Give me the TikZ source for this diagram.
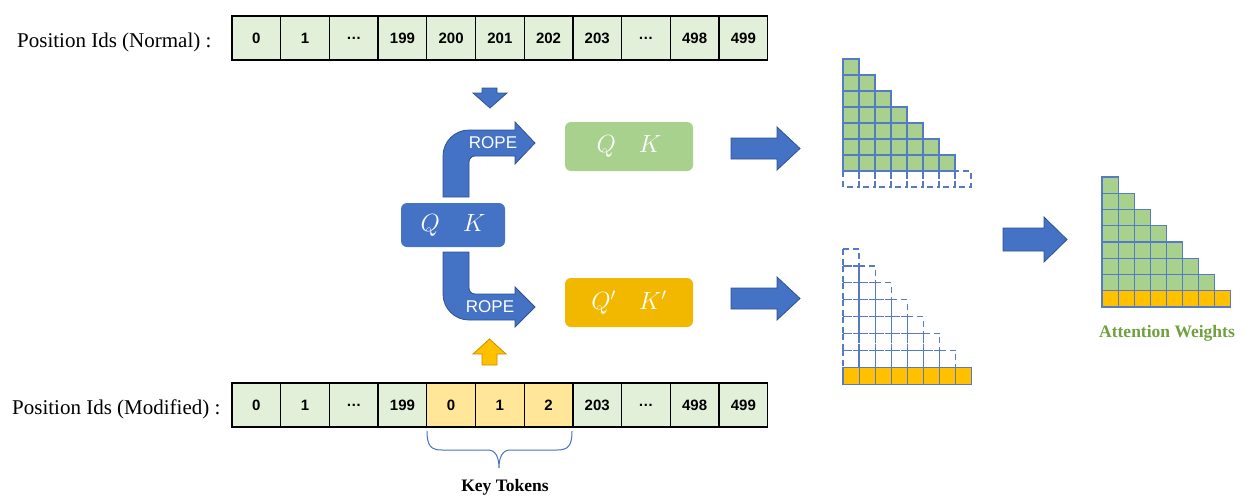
\documentclass[tikz,border=0pt]{standalone}
\usepackage{fontspec}
\setmainfont{Liberation Serif}
\setsansfont{Liberation Sans}
\usetikzlibrary{calc,positioning}

\definecolor{idgreen}{RGB}{226,240,217}
\definecolor{idyellow}{RGB}{255,230,153}
\definecolor{qkblue}{RGB}{68,114,196}
\definecolor{qkedge}{RGB}{47,82,143}
\definecolor{qkgreen}{RGB}{169,209,142}
\definecolor{qkgold}{RGB}{242,184,0}
\definecolor{gridyellow}{RGB}{255,192,0}
\definecolor{gridline}{RGB}{84,122,200}
\definecolor{attgreen}{RGB}{112,160,64}
\definecolor{upedge}{RGB}{205,140,0}

\tikzset{
  idcell/.style={draw=black, line width=1.3pt, minimum width=48.7pt, minimum height=44pt, inner sep=0pt, font=\sffamily\bfseries\fontsize{15}{18}\selectfont},
  qkbox/.style={rounded corners=6pt, minimum height=49pt, minimum width=128pt, inner sep=0pt, text=white, font=\fontsize{23}{27}\selectfont},
  blockarrow/.style={fill=qkblue, draw=qkedge, line width=0.8pt},
  ropetext/.style={text=white, font=\sffamily\fontsize{17}{20}\selectfont},
  gridcell/.style={draw=gridline, line width=1.2pt},
  dashcell/.style={draw=gridline, line width=1.3pt, dash pattern=on 6pt off 4pt},
  caption/.style={font=\bfseries\fontsize{17.5}{21}\selectfont}
}

\begin{document}
\begin{tikzpicture}[x=1pt,y=-1pt]
\useasboundingbox (0,0) rectangle (1253,501);

%position ids
\node[anchor=base east, font=\fontsize{21}{25}\selectfont] (lnormal) at (215,47) {Position Ids (Normal) :};
\node[anchor=base east, font=\fontsize{21}{25}\selectfont] (lmod) at (224,414) {Position Ids (Modified) :};
\foreach \lab [count=\i from 0] in {0,1,\ldots,199,200,201,202,203,\ldots,498,499}
  \node[idcell, fill=idgreen] (n\i) at ({256.35+48.7*\i},38) {\lab};
\foreach \lab/\col [count=\i from 0] in {0/idgreen,1/idgreen,\ldots/idgreen,199/idgreen,0/idyellow,1/idyellow,2/idyellow,203/idgreen,\ldots/idgreen,498/idgreen,499/idgreen}
  \node[idcell, fill=\col] (m\i) at ({256.35+48.7*\i},405) {\lab};

%key tokens brace
\draw[qkblue, line width=1pt] (427,431) .. controls (427,446) and (431,450) .. (442,450) -- (488,450) .. controls (496,450) and (499,458) .. (499,468) .. controls (499,458) and (502,450) .. (510,450) -- (557,450) .. controls (568,450) and (572,446) .. (572,431);
\node[caption] (keytok) at (505,487) {Key Tokens};

%small arrows
\filldraw[blockarrow] (482,88) -- (497,88) -- (497,93) -- (507,93) -- (490,108) -- (473,93) -- (482,93) -- cycle;
\filldraw[fill=gridyellow, draw=upedge, line width=0.8pt] (482,365) -- (497,365) -- (497,354) -- (506,354) -- (489.5,339) -- (473,354) -- (482,354) -- cycle;

%q k boxes
\node[qkbox, fill=qkblue, minimum width=104pt, minimum height=44pt] (qk) at (453,225) {$Q\quad K$};
\node[qkbox, fill=qkgreen] (qkn) at (629,146.5) {$Q\quad K$};
\node[qkbox, fill=qkgold] (qkm) at (629,302.5) {$Q'\quad K'$};

%rope arrows
\filldraw[blockarrow] (443,197) -- (443,156) .. controls (443,141.6) and (454.6,130) .. (469,130) -- (515,130) -- (515,122) -- (535,143) -- (515,164) -- (515,156) -- (475,156) .. controls (471.7,156) and (469,158.7) .. (469,162) -- (469,197) -- cycle;
\filldraw[blockarrow] (443,252) -- (443,294) .. controls (443,308.4) and (454.6,320) .. (469,320) -- (515,320) -- (515,327) -- (535,307) -- (515,287) -- (515,294) -- (475,294) .. controls (471.7,294) and (469,291.3) .. (469,288) -- (469,252) -- cycle;
\node[ropetext] (rope1) at (493,143) {ROPE};
\node[ropetext] (rope2) at (490,307) {ROPE};

%big arrows
\filldraw[blockarrow] (731,138) -- (777,138) -- (777,127) -- (800,148.5) -- (777,170) -- (777,159) -- (731,159) -- cycle;
\filldraw[blockarrow] (731,288) -- (777,288) -- (777,277) -- (800,298.5) -- (777,320) -- (777,309) -- (731,309) -- cycle;
\filldraw[blockarrow] (1003,228) -- (1044,228) -- (1044,217) -- (1067,239.5) -- (1044,262) -- (1044,251) -- (1003,251) -- cycle;

%normal map
\foreach \r in {1,...,7}
  \foreach \c in {1,...,\r}
    \draw[gridcell, fill=qkgreen] ({843+16*(\c-1)},{59+16*(\r-1)}) rectangle +(16,16);
\foreach \c in {1,...,8}
  \draw[dashcell] ({843+16*(\c-1)},171) rectangle +(16,16);

%modified map
\foreach \r in {1,...,7}
  \foreach \c in {1,...,\r}
    \draw[dashcell] ({843+16.1*(\c-1)},{249+16.9*(\r-1)}) rectangle +(16.1,16.9);
\foreach \c in {1,...,8}
  \draw[gridcell, fill=gridyellow] ({843+16.1*(\c-1)},367.3) rectangle +(16.1,16.9);

%merged map
\foreach \r in {1,...,7}
  \foreach \c in {1,...,\r}
    \draw[gridcell, fill=qkgreen] ({1102+16.1*(\c-1)},{177+16.25*(\r-1)}) rectangle +(16.1,16.25);
\foreach \c in {1,...,8}
  \draw[gridcell, fill=gridyellow] ({1102+16.1*(\c-1)},290.75) rectangle +(16.1,16.25);
\node[caption, text=attgreen] (attw) at (1167,333) {Attention Weights};
\end{tikzpicture}
\end{document}
